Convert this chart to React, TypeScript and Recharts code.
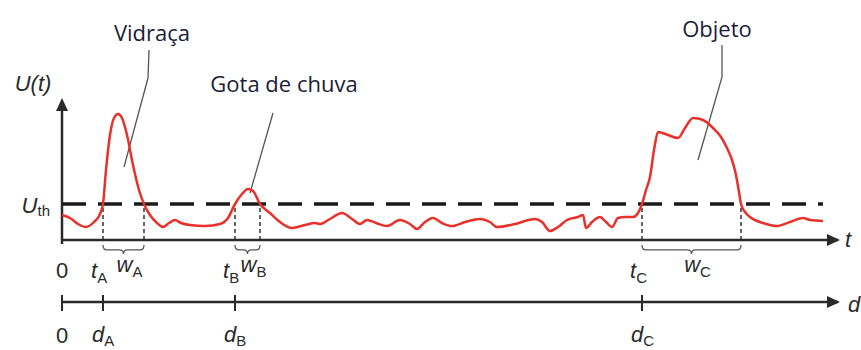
import { LineChart, Line, XAxis, YAxis, ReferenceLine, ReferenceDot, ReferenceArea } from "recharts";

// signal U(t) (t and U in arbitrary units)
const SIGNAL_T = [
  0, 8, 16, 24, 32, 38, 41, 44, 48, 52, 56, 60, 65, 71, 77, 82, 88, 95, 101, 107, 113, 119, 128, 143, 158, 166,
  173, 180, 186, 191, 198, 208, 218, 230, 243, 253, 258, 268, 280, 290, 298, 305, 314, 325, 338, 348, 355, 363,
  371, 380, 390, 403, 418, 428, 435, 453, 473, 480, 488, 496, 505, 516, 521, 524, 530, 538, 544, 550, 556, 563,
  571, 576, 580, 584, 588, 592, 596, 606, 616, 623, 631, 641, 651, 659, 665, 670, 674, 677, 679, 683, 688, 701,
  715, 728, 741, 748, 761,
];
const SIGNAL_U = [
  25, 22, 16, 13, 18, 26, 36, 70, 105, 122, 126, 122, 105, 75, 50, 36, 25, 17, 13, 17, 20, 17, 15, 14, 16, 22,
  36, 46, 51, 49, 36, 27, 18, 12, 15, 17, 16, 21, 27, 21, 16, 20, 17, 14, 20, 16, 11, 18,
  22, 17, 14, 18, 21, 18, 13, 16, 21, 18, 9, 13, 20, 23, 25, 12, 18, 23, 18, 13, 22, 23,
  23, 27, 36, 50, 63, 90, 108, 105, 102, 112, 122, 120, 112, 103, 92, 80, 65, 48, 36, 28, 23, 17,
  14, 18, 22, 20, 19,
];

const THRESHOLD = 36;
const T_END = 776;
const MARK_NAMES = ["A", "B", "C"];
const T_START = [41, 173, 580];
const T_STOP = [82, 198, 679];
const AXIS_TICKS = [0, ...T_START, T_END];

const NOTE_TEXT = ["Vidraça", "Gota de chuva", "Objeto"];
const NOTE_T = [90, 222, 655];
const NOTE_U = [208, 157, 212];
// leader polylines, one per note
const NOTE_LEADERS = [
  [[87, 190], [86, 162], [62, 73]],
  [[211, 127], [188, 47]],
  [[660, 195], [660, 163], [636, 80]],
];

const signal = SIGNAL_T.map((t, i) => ({ t, u: SIGNAL_U[i] }));

const AXIS_FONT = "'Liberation Sans', Arial, sans-serif";
const INK = "#2a2a2a";

function Sub({ main, sub, x, y, anchor = "start", drop = 5 }: any) {
  return (
    <text x={x} y={y} textAnchor={anchor} fontFamily={AXIS_FONT} fontSize={22} fill={INK}>
      <tspan fontStyle="italic">{main}</tspan>
      <tspan fontSize={15} dy={drop}>
        {sub}
      </tspan>
    </text>
  );
}

function Arrow({ x, y }: any) {
  return <path d={`M${x + 2},${y} L${x - 11},${y - 6} L${x - 11},${y + 6} Z`} fill={INK} />;
}

function TTick({ x, y, payload }: any) {
  const v = payload.value;
  if (v === T_END)
    return (
      <g>
        <Arrow x={x} y={y} />
        <text x={x + 7} y={y + 7} fontFamily={AXIS_FONT} fontSize={22} fontStyle="italic" fill={INK}>
          t
        </text>
      </g>
    );
  if (v === 0)
    return (
      <text x={x} y={y + 38} textAnchor="middle" fontFamily={AXIS_FONT} fontSize={22} fill={INK}>
        0
      </text>
    );
  return <Sub main="t" sub={MARK_NAMES[T_START.indexOf(v)]} x={x - 12} y={y + 38} />;
}

function DTick({ x, y, payload }: any) {
  const v = payload.value;
  if (v === T_END)
    return (
      <g>
        <Arrow x={x} y={y} />
        <text x={x + 10} y={y + 10} fontFamily={AXIS_FONT} fontSize={22} fontStyle="italic" fill={INK}>
          d
        </text>
      </g>
    );
  return (
    <g>
      <line x1={x} x2={x} y1={y - 7} y2={y + 9} stroke={INK} strokeWidth={2} />
      {v === 0 ? (
        <text x={x} y={y + 41} textAnchor="middle" fontFamily={AXIS_FONT} fontSize={22} fill={INK}>
          0
        </text>
      ) : (
        <Sub main="d" sub={MARK_NAMES[T_START.indexOf(v)]} x={x - 11} y={y + 40} drop={4} />
      )}
    </g>
  );
}

function UTick({ x, y }: any) {
  return (
    <text x={x - 12} y={y + 9} textAnchor="end" fontFamily={AXIS_FONT} fontSize={22} fill={INK}>
      <tspan fontStyle="italic">U</tspan>
      <tspan fontSize={15} dy={3}>
        th
      </tspan>
    </text>
  );
}

const braceShape = (name: string) => (p: any) => {
  const { x, y, width: w, height: h } = p;
  const cx = x + w / 2;
  const m = y + h * 0.55;
  const r = 4;
  return (
    <g>
      <path
        d={`M${x},${y} Q${x},${m} ${x + r},${m} L${cx - r},${m} Q${cx},${m} ${cx},${y + h} Q${cx},${m} ${cx + r},${m} L${x + w - r},${m} Q${x + w},${m} ${x + w},${y}`}
        fill="none"
        stroke="#555"
        strokeWidth={1.3}
      />
      <Sub main="w" sub={name} x={cx + 6} y={y + 27} anchor="middle" />
    </g>
  );
};

export default function App() {
  return (
    <div style={{ position: "fixed", left: 0, top: 0, background: "#fff" }}>
      <LineChart width={861} height={350} data={signal} margin={{ top: 0, right: 23, bottom: 0, left: 0 }}>
        <XAxis
          dataKey="t"
          type="number"
          domain={[0, T_END]}
          ticks={AXIS_TICKS}
          interval={0}
          height={62}
          tickSize={0}
          tickMargin={0}
          tickLine={false}
          axisLine={{ stroke: INK, strokeWidth: 2.5 }}
          tick={(p: any) => <TTick {...p} />}
        />
        <XAxis
          xAxisId="d"
          dataKey="t"
          type="number"
          domain={[0, T_END]}
          ticks={AXIS_TICKS}
          interval={0}
          height={48}
          tickSize={0}
          tickMargin={0}
          tickLine={false}
          axisLine={{ stroke: INK, strokeWidth: 2.5 }}
          tick={(p: any) => <DTick {...p} />}
        />
        <YAxis
          type="number"
          domain={[0, 240]}
          ticks={[THRESHOLD]}
          interval={0}
          width={62}
          tickSize={0}
          tickMargin={0}
          tickLine={false}
          axisLine={false}
          tick={(p: any) => <UTick {...p} />}
        />

        {/* vertical axis with arrow */}
        <ReferenceLine
          segment={[{ x: 0, y: -4 }, { x: 0, y: 130 }]}
          stroke={INK}
          strokeWidth={2.5}
          ifOverflow="visible"
        />
        <ReferenceDot
          x={0}
          y={142}
          ifOverflow="visible"
          shape={(p: any) => (
            <path d={`M${p.cx},${p.cy} L${p.cx - 6},${p.cy + 13} L${p.cx + 6},${p.cy + 13} Z`} fill={INK} />
          )}
        />
        <ReferenceDot
          x={-29}
          y={157}
          ifOverflow="visible"
          shape={(p: any) => (
            <text
              x={p.cx}
              y={p.cy + 8}
              textAnchor="middle"
              fontFamily={AXIS_FONT}
              fontSize={22}
              fontStyle="italic"
              fill={INK}
            >
              U(t)
            </text>
          )}
        />

        {/* threshold */}
        <ReferenceLine
          segment={[{ x: 0, y: THRESHOLD }, { x: 761, y: THRESHOLD }]}
          stroke="#1a1a1a"
          strokeWidth={3.5}
          strokeDasharray="24 12"
        />

        {/* crossings */}
        {[...T_START, ...T_STOP].map((t) => (
          <ReferenceLine
            key={`c${t}`}
            segment={[{ x: t, y: 0 }, { x: t, y: THRESHOLD }]}
            stroke="#333"
            strokeWidth={1.5}
            strokeDasharray="4 3"
          />
        ))}
        {T_START.map((t, i) => (
          <ReferenceArea
            key={`w${i}`}
            x1={t}
            x2={T_STOP[i]}
            y1={-5}
            y2={-14}
            ifOverflow="visible"
            shape={braceShape(MARK_NAMES[i])}
          />
        ))}

        {/* leaders and notes */}
        {NOTE_LEADERS.flatMap((pts, i) =>
          pts.slice(1).map((pt, j) => (
            <ReferenceLine
              key={`l${i}-${j}`}
              segment={[{ x: pts[j][0], y: pts[j][1] }, { x: pt[0], y: pt[1] }]}
              stroke="#555"
              strokeWidth={1.3}
            />
          ))
        )}
        {NOTE_TEXT.map((txt, i) => (
          <ReferenceDot
            key={txt}
            x={NOTE_T[i]}
            y={NOTE_U[i]}
            ifOverflow="visible"
            shape={(p: any) => (
              <text
                x={p.cx}
                y={p.cy}
                textAnchor="middle"
                dominantBaseline="central"
                fontFamily="'Open Sans', sans-serif"
                fontSize={22}
                fill="#1c1c38"
              >
                {txt}
              </text>
            )}
          />
        ))}

        <Line
          type="monotone"
          dataKey="u"
          stroke="#e8312b"
          strokeWidth={2.5}
          dot={false}
          isAnimationActive={false}
        />
      </LineChart>
    </div>
  );
}
